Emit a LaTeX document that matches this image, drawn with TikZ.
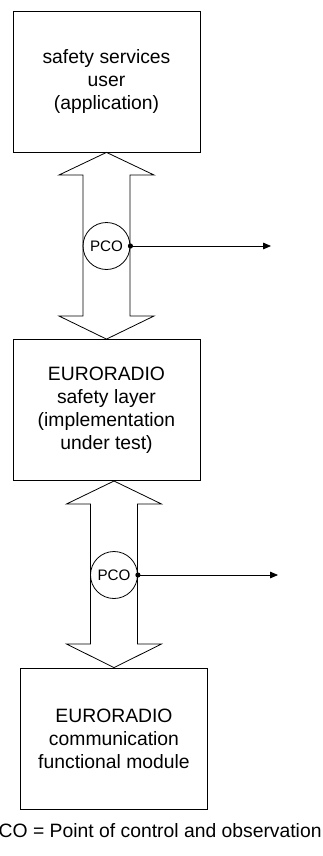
\documentclass[tikz,border=0pt]{standalone}
\usepackage{fontspec}
\setmainfont{Liberation Sans}
\usetikzlibrary{arrows.meta}
\tikzset{every picture/.style={line width=0.6pt}}
\tikzset{
  layerbox/.style={draw, rectangle, inner sep=0pt, align=center,
    minimum width=140.25pt, minimum height=105.75pt,
    font=\fontsize{14.5}{17.25}\selectfont},
  pcocircle/.style={draw, circle, inner sep=0pt, minimum size=35.25pt,
    font=\fontsize{11.4}{13}\selectfont},
  probe/.style={-{Triangle[length=6pt,width=5pt]}}
}

\begin{document}
\begin{tikzpicture}[x=0.75pt,y=0.75pt,yscale=-1,xscale=1]
\useasboundingbox (0,0) rectangle (322,856);
% layers
\node [layerbox] (user) at (106.5,81.5) {safety services\\user\\(application)};
\node [layerbox] (layer) at (106.5,410) {EURORADIO\\safety layer\\(implementation\\under test)};
\node [layerbox] (module) at (114,738.5) {EURORADIO\\communication\\functional module};
% upper double arrow
\draw (user.south) -- (154,175) -- (130,175) -- (130,316) -- (154,316) -- (layer.north)
  -- (59,316) -- (83,316) -- (83,175) -- (59,175) -- cycle ;
% lower double arrow
\draw (114,481) -- (161.5,504) -- (137.5,504) -- (137.5,644) -- (161.5,644) -- (module.north)
  -- (66.5,644) -- (90.5,644) -- (90.5,504) -- (66.5,504) -- cycle ;
% points of control and observation
\node [pcocircle] (pco1) at (106.5,246) {PCO};
\node [pcocircle] (pco2) at (114,575) {PCO};
\coordinate (obs1) at (271,246);
\coordinate (obs2) at (278,575);
\fill (pco1.east) circle (2.6);
\fill (pco2.east) circle (2.6);
\draw [probe] (pco1.east) -- (obs1);
\draw [probe] (pco2.east) -- (obs2);
% legend
\node [anchor=base east, inner sep=0pt, font=\fontsize{14.5}{17.25}\selectfont] (legend) at (322,837) {PCO = Point of control and observation};
\end{tikzpicture}
\end{document}
